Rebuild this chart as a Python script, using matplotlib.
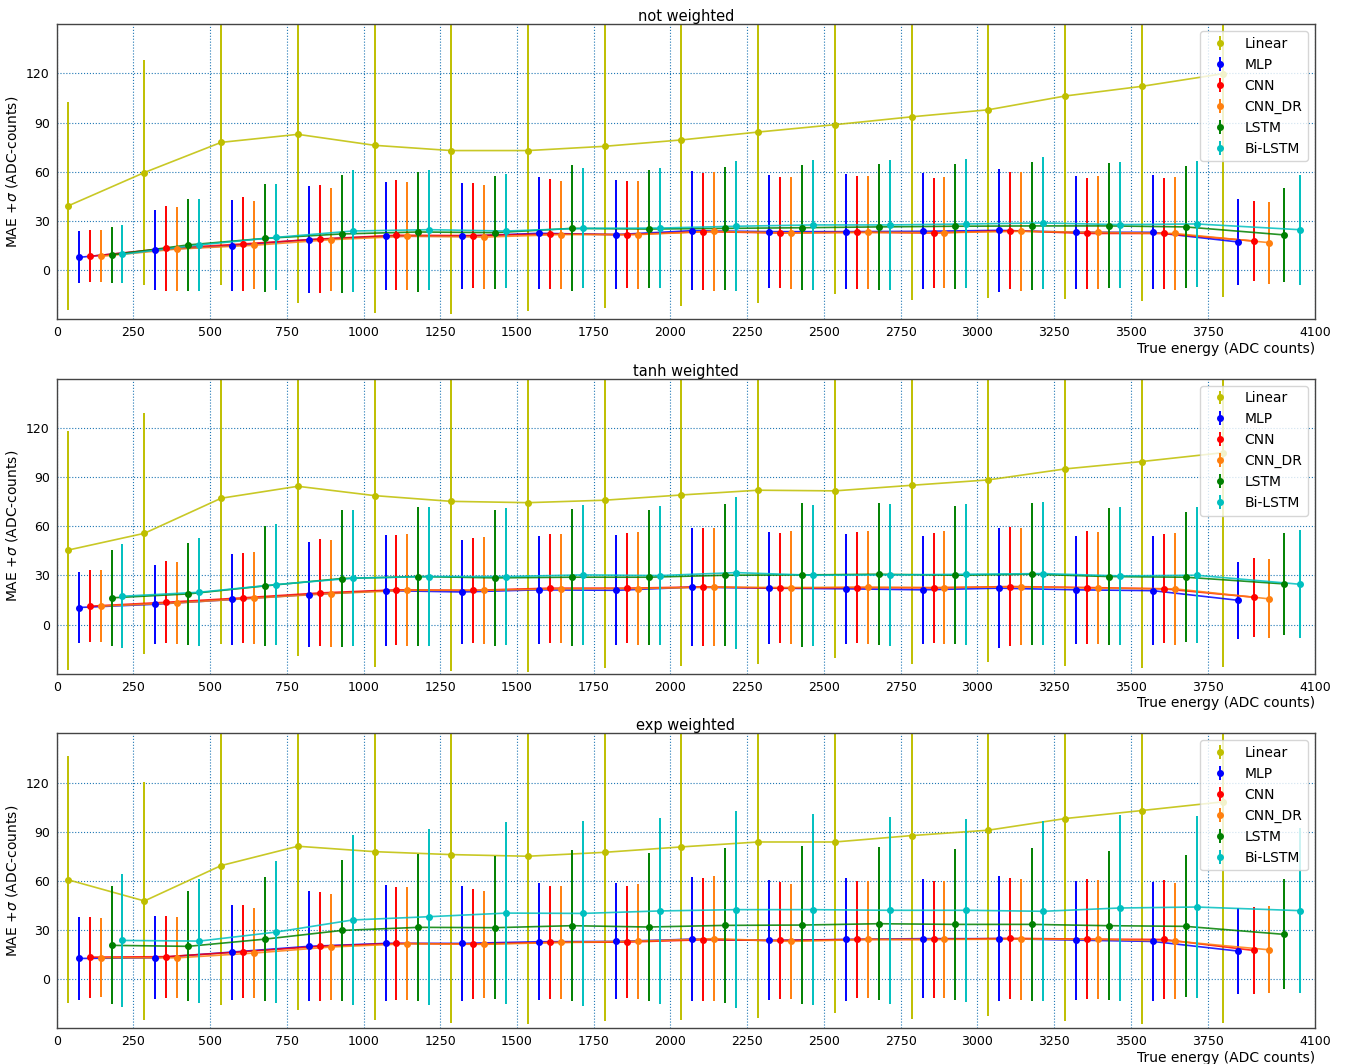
import numpy as np
import matplotlib
matplotlib.use("Agg")
import matplotlib.pyplot as plt

# Energy bins (ADC counts); the last bin is wider
bin_edges = [0, 250, 500, 750, 1000, 1250, 1500, 1750, 2000, 2250, 2500,
             2750, 3000, 3250, 3500, 3750, 4100]

models = ["Linear", "MLP", "CNN", "CNN_DR", "LSTM", "Bi-LSTM"]
colors = ["y", "b", "r", "C1", "g", "c"]

panel_titles = ["not weighted", "tanh weighted", "exp weighted"]

# ---- not weighted: MAE and sigma per energy bin ----
nw_linear_mae = [39.0, 59.5, 77.9, 82.8, 76.1, 72.9, 72.9, 75.5, 79.4, 84.2, 88.7, 93.5, 97.8, 106.2, 112.1, 119.8]
nw_linear_sig = [63.7, 68.7, 87.0, 103.0, 102.4, 99.8, 97.7, 98.7, 101.6, 104.5, 103.4, 112.0, 115.0, 124.0, 131.0, 136.0]
nw_mlp_mae = [7.7, 12.2, 14.9, 18.5, 20.6, 20.6, 22.4, 21.6, 24.0, 23.4, 23.4, 23.6, 24.2, 23.0, 23.0, 17.1]
nw_mlp_sig = [15.9, 24.6, 27.6, 32.5, 33.1, 32.5, 34.3, 33.5, 36.3, 34.6, 35.3, 35.3, 37.4, 34.6, 34.8, 26.0]
nw_cnn_mae = [8.3, 13.2, 15.9, 18.9, 21.2, 21.0, 22.0, 21.6, 23.4, 22.6, 23.0, 22.6, 24.0, 22.3, 22.3, 17.7]
nw_cnn_sig = [15.9, 26.0, 28.8, 33.0, 33.7, 32.3, 33.5, 32.9, 35.7, 33.9, 34.4, 33.8, 35.9, 33.9, 33.9, 24.7]
nw_cnndr_mae = [8.3, 12.8, 15.1, 18.5, 20.6, 20.1, 21.6, 21.6, 23.6, 22.6, 23.0, 22.8, 23.6, 23.0, 22.3, 16.7]
nw_cnndr_sig = [15.9, 25.4, 27.0, 31.6, 33.0, 31.5, 33.0, 33.0, 36.3, 34.0, 34.4, 34.0, 36.2, 34.6, 34.4, 25.0]
nw_lstm_mae = [9.2, 15.3, 19.3, 22.0, 23.2, 22.8, 25.4, 25.0, 25.4, 25.8, 26.3, 26.7, 26.9, 26.9, 26.3, 21.4]
nw_lstm_sig = [17.3, 28.0, 32.9, 36.1, 36.5, 34.4, 38.4, 36.0, 37.6, 38.2, 38.5, 38.2, 38.9, 38.2, 37.2, 28.8]
nw_bilstm_mae = [9.6, 15.3, 19.9, 23.8, 24.6, 23.8, 25.4, 25.6, 26.7, 27.5, 27.5, 28.1, 28.7, 27.7, 28.1, 24.6]
nw_bilstm_sig = [17.6, 27.9, 32.4, 37.4, 36.7, 34.8, 36.6, 36.8, 39.8, 39.6, 39.7, 39.4, 40.3, 38.4, 38.7, 33.6]

# ---- tanh weighted ----
tw_linear_mae = [45.4, 55.7, 77.1, 84.4, 78.7, 75.2, 74.4, 75.9, 79.1, 82.0, 81.6, 85.0, 88.3, 95.0, 99.5, 104.9]
tw_linear_sig = [72.9, 73.6, 88.9, 103.5, 104.7, 103.5, 103.1, 102.5, 104.7, 106.0, 102.1, 109.2, 110.9, 120.0, 126.0, 131.0]
tw_mlp_mae = [10.4, 12.4, 15.3, 18.3, 20.7, 19.9, 21.2, 20.9, 22.8, 22.2, 21.8, 21.2, 22.2, 21.2, 20.7, 14.8]
tw_mlp_sig = [21.6, 24.0, 27.9, 32.0, 34.0, 31.6, 33.0, 33.6, 36.1, 34.0, 33.5, 33.0, 36.8, 33.0, 33.2, 23.6]
tw_cnn_mae = [11.2, 13.6, 16.3, 19.3, 21.2, 20.9, 22.2, 22.2, 23.0, 22.2, 22.6, 22.4, 23.2, 22.6, 21.8, 16.7]
tw_cnn_sig = [21.8, 24.9, 27.6, 32.7, 33.4, 32.0, 33.3, 33.7, 35.9, 33.6, 33.8, 33.5, 36.1, 34.4, 33.3, 24.2]
tw_cnndr_mae = [11.2, 13.2, 16.1, 18.9, 20.9, 20.9, 21.8, 22.0, 22.8, 22.6, 22.8, 22.6, 23.0, 22.2, 21.8, 15.7]
tw_cnndr_sig = [21.8, 25.1, 28.2, 32.5, 34.2, 32.5, 33.2, 34.2, 35.9, 34.6, 34.4, 34.2, 35.7, 34.2, 34.0, 24.1]
tw_lstm_mae = [16.3, 18.7, 23.6, 28.1, 29.3, 28.5, 28.9, 28.9, 30.1, 30.3, 30.7, 30.1, 30.7, 29.3, 28.9, 24.8]
tw_lstm_sig = [29.3, 31.0, 36.6, 41.6, 42.4, 41.5, 41.7, 41.2, 43.5, 43.9, 43.4, 42.2, 43.3, 41.6, 39.6, 31.0]
tw_bilstm_mae = [17.3, 19.7, 24.4, 28.3, 29.3, 29.3, 30.3, 29.9, 31.7, 30.1, 30.3, 30.7, 31.1, 29.7, 30.1, 24.6]
tw_bilstm_sig = [31.9, 32.9, 37.0, 41.7, 42.6, 41.6, 42.8, 42.3, 46.4, 43.1, 43.2, 42.9, 43.7, 42.1, 41.5, 33.0]

# ---- exp weighted ----
ew_linear_mae = [60.7, 47.7, 69.3, 81.1, 77.8, 76.0, 75.0, 77.4, 80.7, 83.7, 83.7, 87.6, 90.9, 98.0, 102.9, 108.2]
ew_linear_sig = [75.3, 72.4, 85.4, 99.8, 102.7, 103.0, 102.7, 103.1, 105.6, 107.3, 104.3, 111.8, 113.7, 123.3, 130.6, 135.0]
ew_mlp_mae = [12.6, 13.0, 16.5, 20.0, 21.8, 21.8, 22.8, 23.0, 24.4, 23.6, 24.2, 24.7, 24.7, 23.8, 23.0, 17.1]
ew_mlp_sig = [25.4, 25.4, 29.0, 33.6, 35.4, 34.9, 35.7, 35.4, 38.0, 36.6, 37.3, 36.4, 38.2, 36.3, 36.3, 26.2]
ew_cnn_mae = [13.4, 13.7, 16.7, 20.0, 21.8, 21.4, 22.4, 22.6, 24.0, 23.6, 24.2, 24.2, 24.9, 24.4, 24.2, 17.5]
ew_cnn_sig = [24.8, 25.1, 28.4, 33.3, 34.5, 33.6, 34.4, 34.4, 37.5, 35.5, 35.9, 35.8, 37.0, 36.7, 36.1, 26.7]
ew_cnndr_mae = [13.0, 13.0, 15.9, 19.6, 21.6, 21.2, 22.4, 23.2, 24.7, 23.0, 24.2, 24.2, 24.4, 24.2, 23.2, 17.9]
ew_cnndr_sig = [24.0, 24.7, 27.5, 32.5, 34.5, 32.8, 34.7, 35.1, 38.1, 35.0, 35.9, 35.8, 37.0, 36.3, 35.3, 26.5]
ew_lstm_mae = [20.6, 20.0, 24.4, 29.7, 31.6, 31.4, 32.6, 31.8, 32.8, 33.0, 33.8, 33.4, 33.4, 32.6, 32.2, 27.3]
ew_lstm_sig = [36.0, 33.6, 37.9, 43.3, 45.0, 43.8, 46.1, 45.1, 47.4, 48.0, 46.7, 46.0, 46.8, 45.3, 43.4, 33.6]
ew_bilstm_mae = [23.6, 23.2, 28.7, 36.1, 38.1, 40.3, 40.1, 41.6, 42.4, 42.4, 42.0, 42.0, 41.4, 43.4, 44.0, 41.8]
ew_bilstm_sig = [40.4, 37.8, 43.2, 52.0, 53.8, 55.4, 56.4, 56.6, 60.0, 58.1, 56.9, 55.7, 55.0, 56.9, 55.8, 50.3]

panels = [
    [(nw_linear_mae, nw_linear_sig), (nw_mlp_mae, nw_mlp_sig), (nw_cnn_mae, nw_cnn_sig),
     (nw_cnndr_mae, nw_cnndr_sig), (nw_lstm_mae, nw_lstm_sig), (nw_bilstm_mae, nw_bilstm_sig)],
    [(tw_linear_mae, tw_linear_sig), (tw_mlp_mae, tw_mlp_sig), (tw_cnn_mae, tw_cnn_sig),
     (tw_cnndr_mae, tw_cnndr_sig), (tw_lstm_mae, tw_lstm_sig), (tw_bilstm_mae, tw_bilstm_sig)],
    [(ew_linear_mae, ew_linear_sig), (ew_mlp_mae, ew_mlp_sig), (ew_cnn_mae, ew_cnn_sig),
     (ew_cnndr_mae, ew_cnndr_sig), (ew_lstm_mae, ew_lstm_sig), (ew_bilstm_mae, ew_bilstm_sig)],
]

edges = np.array(bin_edges, dtype=float)
left = edges[:-1]
width = np.diff(edges)

fig = plt.figure(figsize=(13.47, 10.64), dpi=100)
fig.subplots_adjust(left=0.0421, right=0.9762, bottom=0.0336, top=0.9772, hspace=0.2024)
axes = fig.subplots(3, 1)

for ax, title, series in zip(axes, panel_titles, panels):
    for k, (name, col, (mae, sig)) in enumerate(zip(models, colors, series)):
        # shift each model inside the bin so the bars don't overlap
        x = left + width * (k + 1) / 7.0
        ax.plot(x, mae, "-", color=col, lw=1.2, alpha=0.85)
        ax.errorbar(x, mae, yerr=sig, fmt="o", color=col, ms=4,
                    elinewidth=1.4, capsize=0, label=name)
    ax.set_xlim(0, 4100)
    ax.set_ylim(-30, 150)
    ax.set_xticks([0, 250, 500, 750, 1000, 1250, 1500, 1750, 2000, 2250,
                   2500, 2750, 3000, 3250, 3500, 3750, 4100])
    ax.set_yticks([0, 30, 60, 90, 120])
    ax.tick_params(length=0, pad=5, labelsize=9)
    ax.grid(True, linestyle=":", color="C0", linewidth=0.8)
    ax.set_axisbelow(True)
    for sp in ax.spines.values():
        sp.set_color("#444444")
        sp.set_linewidth(1.0)
    ax.set_title(title, fontsize=10.5, pad=2)
    ax.set_xlabel("True energy (ADC counts)", loc="right", fontsize=10, labelpad=2)
    ax.set_ylabel(r"MAE $+\sigma$ (ADC-counts)", fontsize=10)
    ax.legend(loc="upper right", fontsize=10)

fig.savefig("out.png", dpi=100)
